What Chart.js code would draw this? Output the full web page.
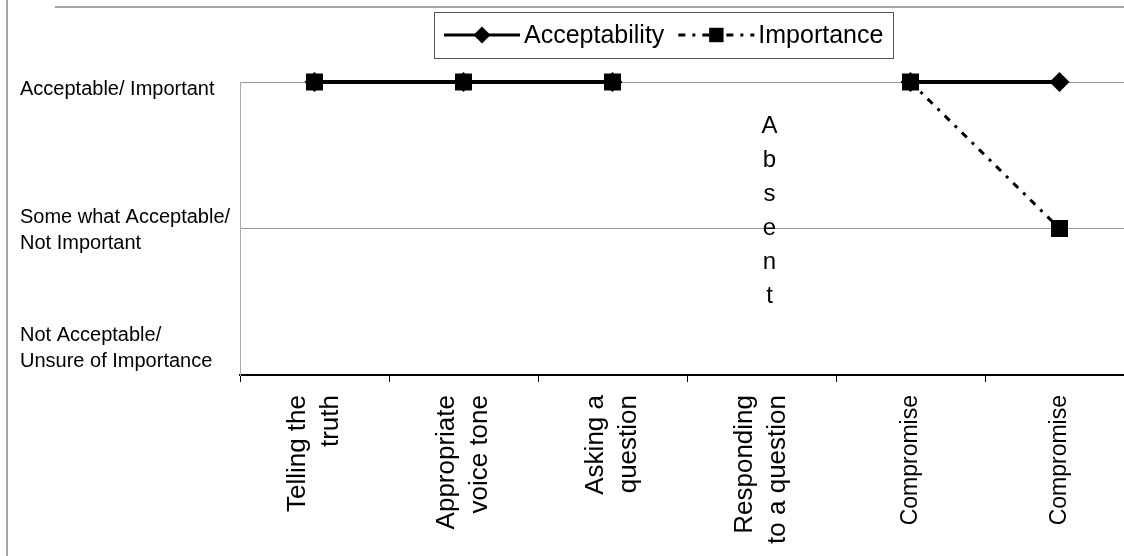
<!DOCTYPE html>
<html>
<head>
<meta charset="utf-8">
<script src="https://cdn.jsdelivr.net/npm/chart.js@4.4.1/dist/chart.umd.min.js"></script>
<style>
  html, body { margin: 0; padding: 0; background: #fff; overflow: hidden; }
  canvas { display: block; }
</style>
</head>
<body>
<canvas id="chart" width="1134" height="556"></canvas>
<script>
// Behaviours rated on a three-level scale
const categories = [
  ['Telling the', 'truth'],
  ['Appropriate', 'voice tone'],
  ['Asking a', 'question'],
  ['Responding', 'to a question'],
  'Compromise',
  'Compromise'
];
const acceptability = [3, 3, 3, null, 3, 3];
const importance    = [3, 3, 3, null, 3, 2];
const levelLabels = [
  ['Not Acceptable/', 'Unsure of Importance'],
  ['Some what Acceptable/', 'Not Important'],
  ['Acceptable/ Important']
];
const absentNote = 'Absent';
const absentIndex = 3;

const FONT = "'Liberation Sans', Arial, Helvetica, sans-serif";

// White page with the thin grey frame of the figure
const frame = {
  id: 'frame',
  beforeDraw(chart) {
    const ctx = chart.ctx;
    ctx.save();
    ctx.fillStyle = '#fff';
    ctx.fillRect(0, 0, chart.width, chart.height);
    ctx.strokeStyle = '#888';
    ctx.lineWidth = 1.5;
    ctx.beginPath();
    ctx.moveTo(7, 0); ctx.lineTo(7, chart.height);
    ctx.moveTo(55, 7); ctx.lineTo(chart.width, 7);
    ctx.stroke();
    ctx.restore();
  }
};

// Keep two-line category labels centred on their tick
const centreMultiline = {
  id: 'centreMultiline',
  beforeDraw(chart) {
    const items = chart.scales.x.getLabelItems();
    items.forEach(it => {
      if (Array.isArray(it.label) && it.label.length > 1 && !it._centred) {
        it.options.translation[0] -= (it.label.length - 1) * it.font.lineHeight / 2;
        it._centred = true;
      }
    });
  }
};

function marker(ctx, style, r, x, y) {
  ctx.beginPath();
  if (style === 'rectRot') {
    ctx.moveTo(x, y - r); ctx.lineTo(x + r, y); ctx.lineTo(x, y + r); ctx.lineTo(x - r, y);
  } else {
    const h = r * Math.SQRT1_2;
    ctx.rect(x - h, y - h, 2 * h, 2 * h);
  }
  ctx.closePath();
  ctx.fill();
}

// Boxed legend: line sample with its marker, then the series name
const boxedLegend = {
  id: 'boxedLegend',
  afterDraw(chart) {
    const ctx = chart.ctx;
    const sets = chart.data.datasets;
    ctx.save();
    ctx.font = '25px ' + FONT;
    const sample = 76, gapText = 4, gapItem = 14, padX = 10, h = 46;
    const cx = 664, cy = 35;
    const widths = sets.map(d => ctx.measureText(d.label).width);
    const total = widths.reduce((s, w) => s + sample + gapText + w, 0) + gapItem * (sets.length - 1);
    const left = Math.round(cx - total / 2 - padX);
    ctx.strokeStyle = '#555';
    ctx.lineWidth = 1;
    ctx.strokeRect(left + 0.5, Math.round(cy - h / 2) + 0.5, Math.round(total + 2 * padX), h);
    let x = left + padX;
    sets.forEach((d, i) => {
      ctx.strokeStyle = d.borderColor;
      ctx.lineWidth = 3;
      ctx.setLineDash(d.borderDash || []);
      ctx.beginPath();
      ctx.moveTo(x, cy); ctx.lineTo(x + sample, cy);
      ctx.stroke();
      ctx.setLineDash([]);
      ctx.fillStyle = d.pointBackgroundColor;
      marker(ctx, d.pointStyle, d.pointRadius * 0.85, x + sample / 2, cy);
      ctx.fillStyle = '#000';
      ctx.textBaseline = 'middle';
      ctx.textAlign = 'left';
      ctx.fillText(d.label, x + sample + gapText, cy + 1);
      x += sample + gapText + widths[i] + gapItem;
    });
    ctx.restore();
  }
};

// Vertical note written letter by letter over the empty category
const absentMark = {
  id: 'absentMark',
  afterDatasetsDraw(chart) {
    const ctx = chart.ctx;
    const xs = chart.scales.x, ys = chart.scales.y;
    const x = xs.getPixelForValue(absentIndex) + 8;
    const y0 = ys.getPixelForValue(3) + 44;
    ctx.save();
    ctx.font = '24px ' + FONT;
    ctx.fillStyle = '#000';
    ctx.textAlign = 'center';
    ctx.textBaseline = 'middle';
    absentNote.split('').forEach((ch, i) => ctx.fillText(ch, x, y0 + i * 34));
    ctx.restore();
  }
};

new Chart(document.getElementById('chart'), {
  type: 'line',
  data: {
    labels: categories,
    datasets: [
      {
        label: 'Acceptability',
        data: acceptability,
        borderColor: '#000',
        borderWidth: 4,
        pointStyle: 'rectRot',
        pointRadius: 10,
        pointBackgroundColor: '#000',
        pointBorderColor: '#000',
        pointBorderWidth: 0,
        tension: 0,
        spanGaps: false,
        clip: false,
        order: 1
      },
      {
        label: 'Importance',
        data: importance,
        borderColor: '#000',
        borderWidth: 3,
        borderDash: [7, 7, 3, 7],
        pointStyle: 'rect',
        pointRadius: 12,
        pointBackgroundColor: '#000',
        pointBorderColor: '#000',
        pointBorderWidth: 0,
        tension: 0,
        spanGaps: false,
        clip: false,
        order: 0
      }
    ]
  },
  options: {
    responsive: false,
    animation: false,
    devicePixelRatio: 1,
    layout: { autoPadding: false, padding: { top: 82, left: 20, right: 0, bottom: 0 } },
    plugins: { legend: { display: false }, tooltip: { enabled: false } },
    scales: {
      x: {
        type: 'category',
        offset: true,
        afterFit(s) { s.height = 181; s.paddingLeft = 0; s.paddingRight = 0; },
        grid: { display: true, offset: true, drawOnChartArea: false, drawTicks: true, tickLength: 7, tickColor: '#000', tickWidth: 1 },
        border: { display: true, color: '#000', width: 2 },
        ticks: {
          autoSkip: false,
          minRotation: 90,
          maxRotation: 90,
          padding: 13,
          color: '#000',
          font: (c) => ({ family: FONT, size: c.index < 4 ? 26 : 23, lineHeight: 1.27 })
        }
      },
      y: {
        min: 1,
        max: 3,
        weight: 0,
        afterFit(s) { s.width = 0; },
        ticks: { display: false, stepSize: 1 },
        grid: { color: '#999', lineWidth: 1, drawTicks: false },
        border: { display: true, color: '#aaa', width: 1 }
      },
      yText: {
        type: 'linear',
        position: 'left',
        min: 1,
        max: 3,
        weight: 1,
        afterFit(s) { s.width = 220; },
        afterBuildTicks(s) { s.ticks = [1.18, 1.985, 2.95].map(v => ({ value: v })); },
        grid: { display: false, drawTicks: false },
        border: { display: false },
        ticks: {
          crossAlign: 'far',
          color: '#000',
          font: { family: FONT, size: 20, lineHeight: 1.3 },
          callback: (v, i) => levelLabels[i]
        }
      }
    }
  },
  plugins: [frame, centreMultiline, boxedLegend, absentMark]
});
</script>
</body>
</html>
